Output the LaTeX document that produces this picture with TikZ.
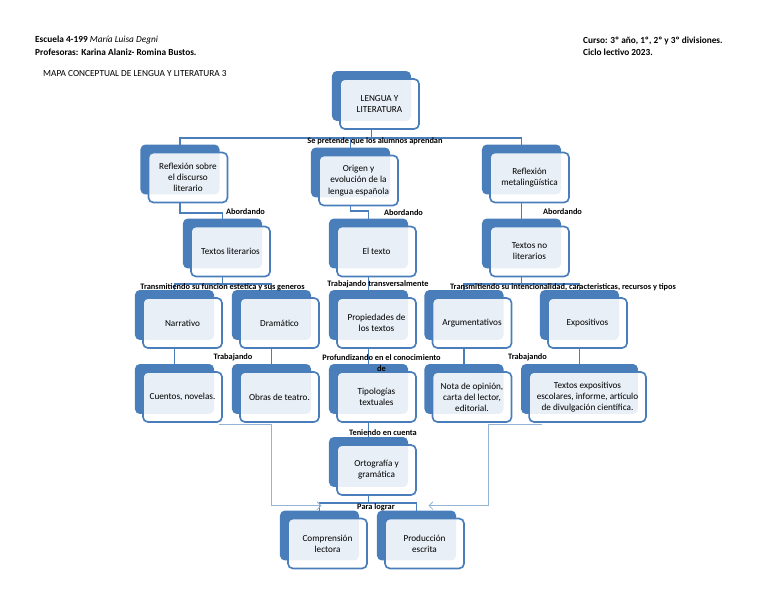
\documentclass[tikz,border=0pt]{standalone}
\usepackage{fontspec}
\setmainfont{Carlito}
\usetikzlibrary{shadows,backgrounds,calc,arrows.meta}
\definecolor{azul}{HTML}{4A7EBB}
\definecolor{celeste}{HTML}{95B3D7}
\begin{document}
\begin{tikzpicture}[x=1.03125pt,y=-1.03125pt,
    concepto/.style={draw=azul,line width=1.7pt,rounded corners=5pt,
      fill=white,fill opacity=0.88,text opacity=1,
      minimum width=81.5pt,minimum height=51.5pt,align=center,inner sep=2pt,
      font=\fontsize{9.5}{11.5}\selectfont,
      general shadow={fill=azul,fill opacity=1,shadow xshift=-8.25pt,shadow yshift=8.25pt}},
    enlace/.style={draw=azul,line width=1.9pt},
    flecha/.style={draw=celeste,line width=0.8pt,-{Straight Barb[length=4pt,width=8pt]}},
    rotulo/.style={font=\bfseries\fontsize{8.6}{12}\selectfont,inner sep=0pt,align=center},
    encabezado/.style={font=\fontsize{9.6}{11}\selectfont,inner sep=0pt,anchor=west}]
        \useasboundingbox (0,0) rectangle (768,594);

        % encabezado
        \node (escuela) at (35,40) [encabezado] {\textbf{Escuela 4-199} \textit{María Luisa Degni}};
        \node (profesoras) at (35,52) [encabezado] {\textbf{Profesoras: Karina Alaniz- Romina Bustos.}};
        \node (titulo) at (43,74) [encabezado] {MAPA CONCEPTUAL DE LENGUA Y LITERATURA 3};
        \node (curso) at (583,41) [encabezado] {\textbf{Curso: 3º año, 1º, 2º y 3º divisiones.}};
        \node (ciclo) at (583,52) [encabezado] {\textbf{Ciclo lectivo 2023.}};

        % conceptos
        \node (lengua) at (379.5,104) [concepto] {LENGUA Y\\LITERATURA};
        \node (reflexion) at (188,177.5) [concepto] {Reflexión sobre\\el discurso\\literario};
        \node (origen) at (358.5,180.5) [concepto] {Origen y\\evolución de la\\lengua española};
        \node (metaling) at (529.5,177.5) [concepto] {Reflexión\\metalingüística};
        \node (textlit) at (230.5,251.5) [concepto] {Textos literarios};
        \node (texto) at (376.5,251.5) [concepto] {El texto};
        \node (textnolit) at (529.5,251.5) [concepto] {Textos no\\literarios};
        \node (narrativo) at (182.5,323) [concepto] {Narrativo};
        \node (dramatico) at (279.5,323) [concepto] {Dramático};
        \node (propiedades) at (376.5,323) [concepto] {Propiedades de\\los textos};
        \node (argument) at (472,323) [concepto] {Argumentativos};
        \node (exposit) at (587.5,323) [concepto] {Expositivos};
        \node (cuentos) at (182.5,397) [concepto] {Cuentos, novelas.};
        \node (obras) at (279.5,397) [concepto] {Obras de teatro.};
        \node (tipologias) at (376.5,397) [concepto] {Tipologías\\textuales};
        \node (nota) at (472,397) [concepto] {Nota de opinión,\\carta del lector,\\editorial.};
        \node (textexp) at (587.5,397) [concepto,minimum width=120.5pt] {Textos expositivos\\escolares, informe, artículo\\de divulgación científica.};
        \node (ortografia) at (376.5,470) [concepto] {Ortografía y\\gramática};
        \node (comprension) at (327.5,543.5) [concepto] {Comprensión\\lectora};
        \node (produccion) at (424.5,543.5) [concepto] {Producción\\escrita};

        % enlaces
        \begin{scope}[on background layer]
          \draw[enlace] ($(lengua.south)+(-8,0)$) -- ++(0,8) coordinate (bus1);
          \draw[enlace] (bus1) -| ($(reflexion.north)+(-8,0)$);
          \draw[enlace] (bus1) -| ($(origen.north)+(-8,0)$);
          \draw[enlace] (bus1) -| ($(metaling.north)+(-8,0)$);

          \draw[enlace] ($(reflexion.south)+(-8,0)$) -- ++(0,10) -| ($(textlit.north)+(-8,0)$);
          \draw[enlace] ($(origen.south)+(-8,0)$) -- ++(0,5) -| ($(texto.north)+(-8,0)$);
          \draw[enlace] ($(metaling.south)+(-8,0)$) -- ($(textnolit.north)+(-8,0)$);

          \draw[enlace] ($(textlit.south)+(-8,0)$) -- ++(0,7) coordinate (bus2);
          \draw[enlace] (bus2) -| ($(narrativo.north)+(-8,0)$);
          \draw[enlace] (bus2) -| ($(dramatico.north)+(-8,0)$);
          \draw[enlace] ($(texto.south)+(-8,0)$) -- ($(propiedades.north)+(-8,0)$);
          \draw[enlace] ($(textnolit.south)+(-8,0)$) -- ++(0,7) coordinate (bus3);
          \draw[enlace] (bus3) -| ($(argument.north)+(-8,0)$);
          \draw[enlace] (bus3) -| ($(exposit.north)+(-8,0)$);

          \draw[enlace] ($(narrativo.south)+(-8,0)$) -- ($(cuentos.north)+(-8,0)$);
          \draw[enlace] ($(dramatico.south)+(-8,0)$) -- ($(obras.north)+(-8,0)$);
          \draw[enlace] ($(propiedades.south)+(-8,0)$) -- ($(tipologias.north)+(-8,0)$);
          \draw[enlace] ($(argument.south)+(-8,0)$) -- ($(nota.north)+(-8,0)$);
          \draw[enlace] ($(exposit.south)+(-8,0)$) -- ($(textexp.north)+(-8,0)$);

          \draw[enlace] ($(tipologias.south)+(-8,0)$) -- ($(ortografia.north)+(-8,0)$);
          \draw[enlace] ($(ortografia.south)+(-8,0)$) -- ++(0,7) coordinate (bus4);
          \draw[enlace] (bus4) -| ($(comprension.north)+(-8,0)$);
          \draw[enlace] (bus4) -| ($(produccion.north)+(-8,0)$);

          \draw[flecha] ($(cuentos.south east)+(-4,1.5)$) -- ($(obras.south)+(-8,1.5)$) |- ($(comprension.north)+(-6,-12)$);
          \draw[flecha] ($(textexp.south west)+(14,1.5)$) -- ($(nota.south)+(16.5,1.5)$) |- ($(produccion.north)+(4,-12)$);
        \end{scope}

        % rotulos de los enlaces
        \node (aprendan) at (375,141) [rotulo] {Se pretende que los alumnos aprendan};
        \node (abord1) at (245.5,212) [rotulo] {Abordando};
        \node (abord2) at (403.5,212.5) [rotulo] {Abordando};
        \node (abord3) at (562.5,212) [rotulo] {Abordando};
        \node (funcion) at (222.5,287) [rotulo] {Transmitiendo su funcion estetica y sus generos};
        \node (transversal) at (378,284) [rotulo] {Trabajando transversalmente};
        \node (intencion) at (563,287) [rotulo] {Transmitiendo su intencionalidad, caracteristicas, recursos y tipos};
        \node (trab1) at (233,357) [rotulo] {Trabajando};
        \node (profund) at (381.5,363) [rotulo] {Profundizando en el conocimiento\\de};
        \node (trab2) at (527.5,357) [rotulo] {Trabajando};
        \node (cuenta) at (383,432.5) [rotulo] {Teniendo en cuenta};
        \node (lograr) at (376,507) [rotulo] {Para lograr};
      \end{tikzpicture}
\end{document}
